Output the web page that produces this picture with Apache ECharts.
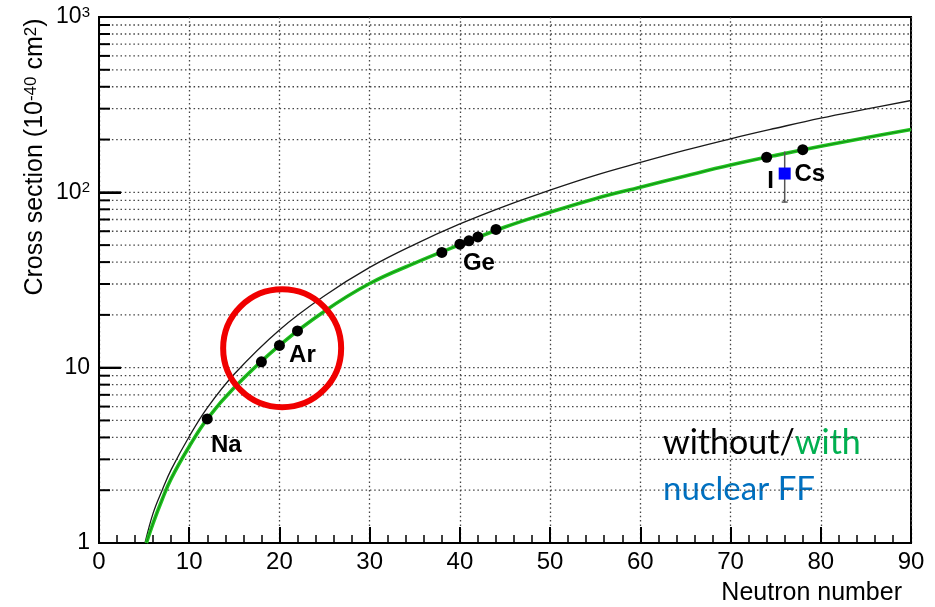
<!DOCTYPE html>
<html>
<head>
<meta charset="utf-8">
<script src="https://cdn.jsdelivr.net/npm/echarts@6/dist/echarts.min.js"></script>
<style>
  html, body { margin: 0; padding: 0; background: #fff; }
  #chart { width: 935px; height: 607px; }
</style>
</head>
<body>
<div id="chart"></div>
<script>
// Coherent neutrino-nucleus cross section vs neutron number
const xTicks = [0, 10, 20, 30, 40, 50, 60, 70, 80, 90];
const yTicks = [1, 10, 100, 1000];
// horizontal grid positions on the log axis (2..9 of each decade plus decades)
const yGridValues = [2, 3, 4, 5, 6, 7, 8, 9, 10,
                     20, 30, 40, 50, 60, 70, 80, 90, 100,
                     200, 300, 400, 500, 600, 700, 800, 900];

// cross section without nuclear form factor [N, sigma]
const curveNoFF = [[5.1, 1], [6, 1.48], [7, 2.0], [8, 2.62], [10, 4.05], [12, 5.9],
                   [15, 9.2], [20, 16.4], [25, 25.7], [30, 37.3], [35, 50.5], [40, 66],
                   [45, 83.5], [50, 103], [55, 125], [60, 148], [65, 174], [70, 202],
                   [75, 232], [80, 265], [85, 298], [90, 334]];
// cross section with nuclear form factor [N, sigma]
const curveFF = [[5.25, 1], [6, 1.3], [7, 1.77], [8, 2.33], [10, 3.55], [12, 5.1],
                 [15, 7.7], [20, 13.4], [25, 21], [30, 30.2], [35, 39.5], [40, 50.3],
                 [45, 63.4], [50, 77], [55, 92], [60, 107], [65, 124], [70, 143],
                 [75, 162.5], [80, 183], [85, 205], [90, 228]];

// target isotopes [N, sigma]
const naPts = [[12, 5.1]];
const arPts = [[18, 10.8], [20, 13.4], [22, 16.2]];
const gePts = [[38, 45.4], [40, 50.6], [41, 52.9], [42, 55.7], [44, 61.4]];
const iPts = [[74, 158.5]];
const csPts = [[78, 175]];

// CsI measurement [N, central, low, high]
const csiMeasurement = [[76, 128, 88, 171]];

// highlighted region (argon) [N, sigma]
const highlight = [[20.3, 12.9]];

const FONT = 'Liberation Sans, Arial, sans-serif';
const gridDash = [1.5, 2.8];

const chart = echarts.init(document.getElementById('chart'), null, { renderer: 'canvas' });

function labelled(pts, name, idx, offset) {
  return pts.map((p, i) => i === idx ? {
    value: p,
    label: {
      show: true, formatter: name, position: 'inside', offset: offset,
      fontFamily: FONT, fontWeight: 'bold', fontSize: 24, color: '#000'
    }
  } : { value: p });
}

const pointData = [].concat(
  labelled(naPts, 'Na', 0, [19, 26]),
  labelled(arPts, 'Ar', 1, [23, 10]),
  labelled(gePts, 'Ge', 2, [10, 23]),
  labelled(iPts, 'I', 0, [4, 24]),
  labelled(csPts, 'Cs', 0, [7, 25])
);

const option = {
  animation: false,
  backgroundColor: '#fff',
  grid: {
    left: 99, right: 24, top: 17, bottom: 64,
    show: true, borderColor: '#000', borderWidth: 2, backgroundColor: 'transparent'
  },
  xAxis: {
    type: 'value', min: 0, max: 90, interval: 10,
    axisLine: { show: true, onZero: false, lineStyle: { color: '#000', width: 2 } },
    axisTick: { show: true, inside: true, length: 16, lineStyle: { color: '#000', width: 2 } },
    minorTick: { show: true, splitNumber: 5, length: 8, lineStyle: { color: '#000', width: 1.5 } },
    splitLine: { show: true, lineStyle: { color: '#444', width: 1.3, type: gridDash } },
    axisLabel: {
      fontFamily: FONT, fontSize: 24, color: '#000', margin: 7,
      formatter: v => xTicks.indexOf(v) >= 0 ? String(v) : ''
    }
  },
  yAxis: {
    type: 'log', logBase: 10, min: 1, max: 1000,
    axisLine: { show: true, onZero: false, lineStyle: { color: '#000', width: 2 } },
    axisTick: { show: true, inside: true, length: 22, lineStyle: { color: '#000', width: 2 } },
    splitLine: { show: false },
    axisLabel: {
      fontFamily: FONT, fontSize: 23, color: '#000', margin: 9,
      formatter: v => {
        if (yTicks.indexOf(v) < 0) return '';
        if (v >= 100) return '{n|10}{s|' + Math.round(Math.log10(v)) + '}';
        return String(v);
      },
      rich: {
        n: { fontFamily: FONT, fontSize: 23, lineHeight: 23, color: '#000' },
        s: { fontFamily: FONT, fontSize: 15, lineHeight: 15, verticalAlign: 'top', color: '#000' }
      }
    }
  },
  series: [
    {
      // dotted horizontal grid and minor ticks on the log axis
      type: 'custom', silent: true, z: 1,
      data: yGridValues.map(v => [0, v]),
      encode: { x: 0, y: 1 },
      clip: false,
      renderItem: function (params, api) {
        const v = api.value(1);
        const a = api.coord([0, v]);
        const b = api.coord([90, v]);
        const children = [{
          type: 'line',
          shape: { x1: a[0], y1: a[1], x2: b[0], y2: b[1] },
          style: { stroke: '#444', lineWidth: 1.3, lineDash: gridDash }
        }];
        const isDecade = Math.abs(Math.log10(v) - Math.round(Math.log10(v))) < 1e-9;
        children.push({
          type: 'line',
          shape: { x1: a[0], y1: a[1], x2: a[0] + (isDecade ? 22 : 11), y2: a[1] },
          style: { stroke: '#000', lineWidth: 2 }
        });
        return { type: 'group', children: children };
      }
    },
    {
      type: 'line', data: curveNoFF, smooth: 0.4, showSymbol: false, silent: true, z: 3,
      lineStyle: { color: '#1a1a1a', width: 1.3 }
    },
    {
      type: 'line', data: curveFF, smooth: 0.4, showSymbol: false, silent: true, z: 3,
      lineStyle: { color: '#1fc41f', width: 3.6 }
    },
    {
      type: 'line', data: curveFF, smooth: 0.4, showSymbol: false, silent: true, z: 4,
      lineStyle: { color: 'rgba(0,0,0,0.35)', width: 0.9 }
    },
    {
      // CsI error bar
      type: 'custom', silent: true, z: 5,
      data: csiMeasurement,
      encode: { x: 0, y: 1 },
      renderItem: function (params, api) {
        const lo = api.coord([api.value(0), api.value(2)]);
        const hi = api.coord([api.value(0), api.value(3)]);
        const st = { stroke: '#555', lineWidth: 1.5 };
        return {
          type: 'group', children: [
            { type: 'line', shape: { x1: lo[0], y1: lo[1], x2: hi[0], y2: hi[1] }, style: st },
            { type: 'line', shape: { x1: lo[0] - 3, y1: lo[1], x2: lo[0] + 3, y2: lo[1] }, style: st }
          ]
        };
      }
    },
    {
      type: 'scatter', data: csiMeasurement.map(d => [d[0], d[1]]), symbol: 'rect', symbolSize: 12,
      itemStyle: { color: '#0000ff', opacity: 1 }, silent: true, z: 6
    },
    {
      type: 'scatter', data: pointData, symbol: 'circle', symbolSize: 11,
      itemStyle: { color: '#000', opacity: 1 }, silent: true, z: 7
    },
    {
      type: 'scatter', data: highlight, symbol: 'circle', symbolSize: 118, silent: true, z: 8,
      itemStyle: { color: 'rgba(0,0,0,0)', borderColor: '#f00000', borderWidth: 6, opacity: 1 }
    }
  ],
  graphic: [
    {
      type: 'text', x: 35, y: 157, rotation: Math.PI / 2, silent: true,
      style: {
        text: 'Cross section (10{s|-40} cm{s|2})',
        fontFamily: FONT, fontSize: 25, fill: '#000',
        textAlign: 'center', textVerticalAlign: 'middle',
        rich: {
          s: { fontFamily: FONT, fontSize: 17, lineHeight: 17, verticalAlign: 'top', fill: '#000' }
        }
      }
    },
    {
      type: 'text', x: 902, y: 593, silent: true,
      style: {
        text: 'Neutron number', fontFamily: FONT, fontSize: 25, fill: '#000',
        textAlign: 'right', textVerticalAlign: 'middle'
      }
    },
    {
      type: 'text', x: 663, y: 443, silent: true,
      style: {
        text: '{a|without/}{b|with}',
        textAlign: 'left', textVerticalAlign: 'middle',
        rich: {
          a: { fontFamily: 'Lato, sans-serif', fontSize: 34, fill: '#000' },
          b: { fontFamily: 'Lato, sans-serif', fontSize: 34, fill: '#00b050' }
        }
      }
    },
    {
      type: 'text', x: 663, y: 489, silent: true,
      style: {
        text: 'nuclear FF', fontFamily: 'Lato, sans-serif', fontSize: 33, fill: '#0070c0',
        textAlign: 'left', textVerticalAlign: 'middle'
      }
    }
  ]
};

chart.setOption(option);
</script>
</body>
</html>
